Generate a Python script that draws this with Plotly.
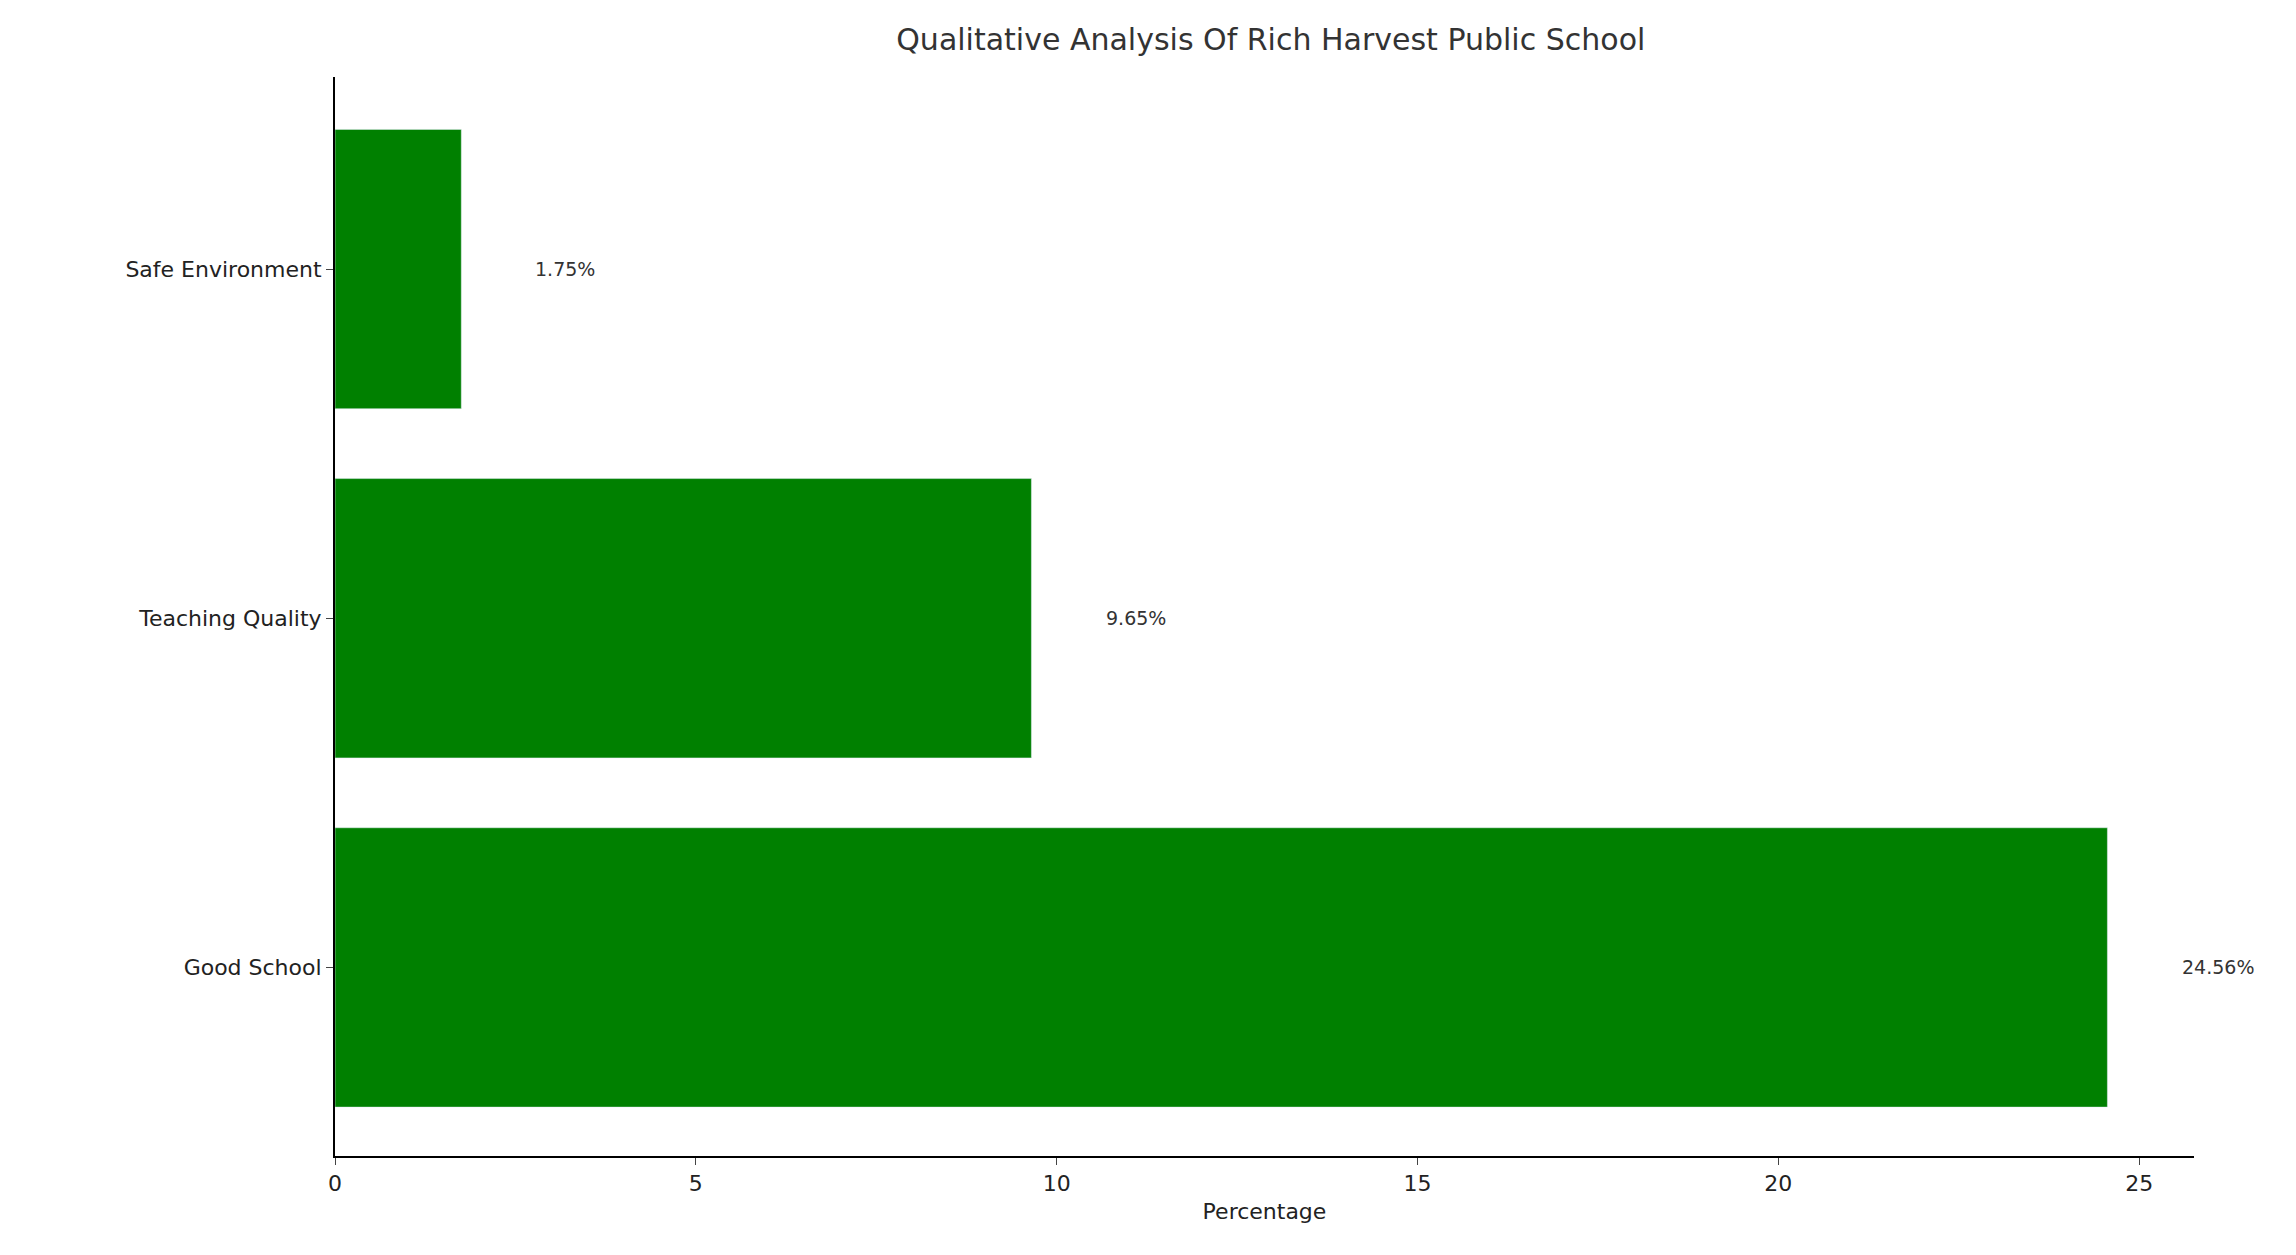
import plotly.graph_objects as go

categories = ["Good School", "Teaching Quality", "Safe Environment"]
values = [24.56, 9.65, 1.75]
labels = ["24.56%", "9.65%", "1.75%"]

fig = go.Figure(go.Bar(
    x=values, y=categories, orientation="h",
    marker_color="green", width=0.8,
))

for v, c, t in zip(values, categories, labels):
    fig.add_annotation(x=v + 1, y=c, text=t, showarrow=False,
                       xanchor="left", font=dict(size=19, color="#333"))

fig.update_layout(
    width=2296, height=1255,
    plot_bgcolor="white", paper_bgcolor="white",
    font=dict(family="DejaVu Sans", color="#222"),
    margin=dict(l=327, r=110, t=69, b=107),
    title=dict(text="Qualitative Analysis Of Rich Harvest Public School",
               x=0.55, xanchor="center", y=0.975, yanchor="middle",
               font=dict(size=30, color="#333")),
    showlegend=False,
)
fig.update_xaxes(range=[0, 25.76], tickvals=[0, 5, 10, 15, 20, 25],
                 showgrid=False, zeroline=False, showline=True,
                 linecolor="black", linewidth=2, ticks="outside",
                 ticklen=7, tickfont=dict(size=22),
                 title=dict(text="Percentage", font=dict(size=22), standoff=8))
fig.update_yaxes(range=[-0.54, 2.55], showgrid=False, zeroline=False,
                 showline=True, linecolor="black", linewidth=2,
                 ticks="outside", ticklen=7, tickfont=dict(size=22))

fig.write_html("out.html")
